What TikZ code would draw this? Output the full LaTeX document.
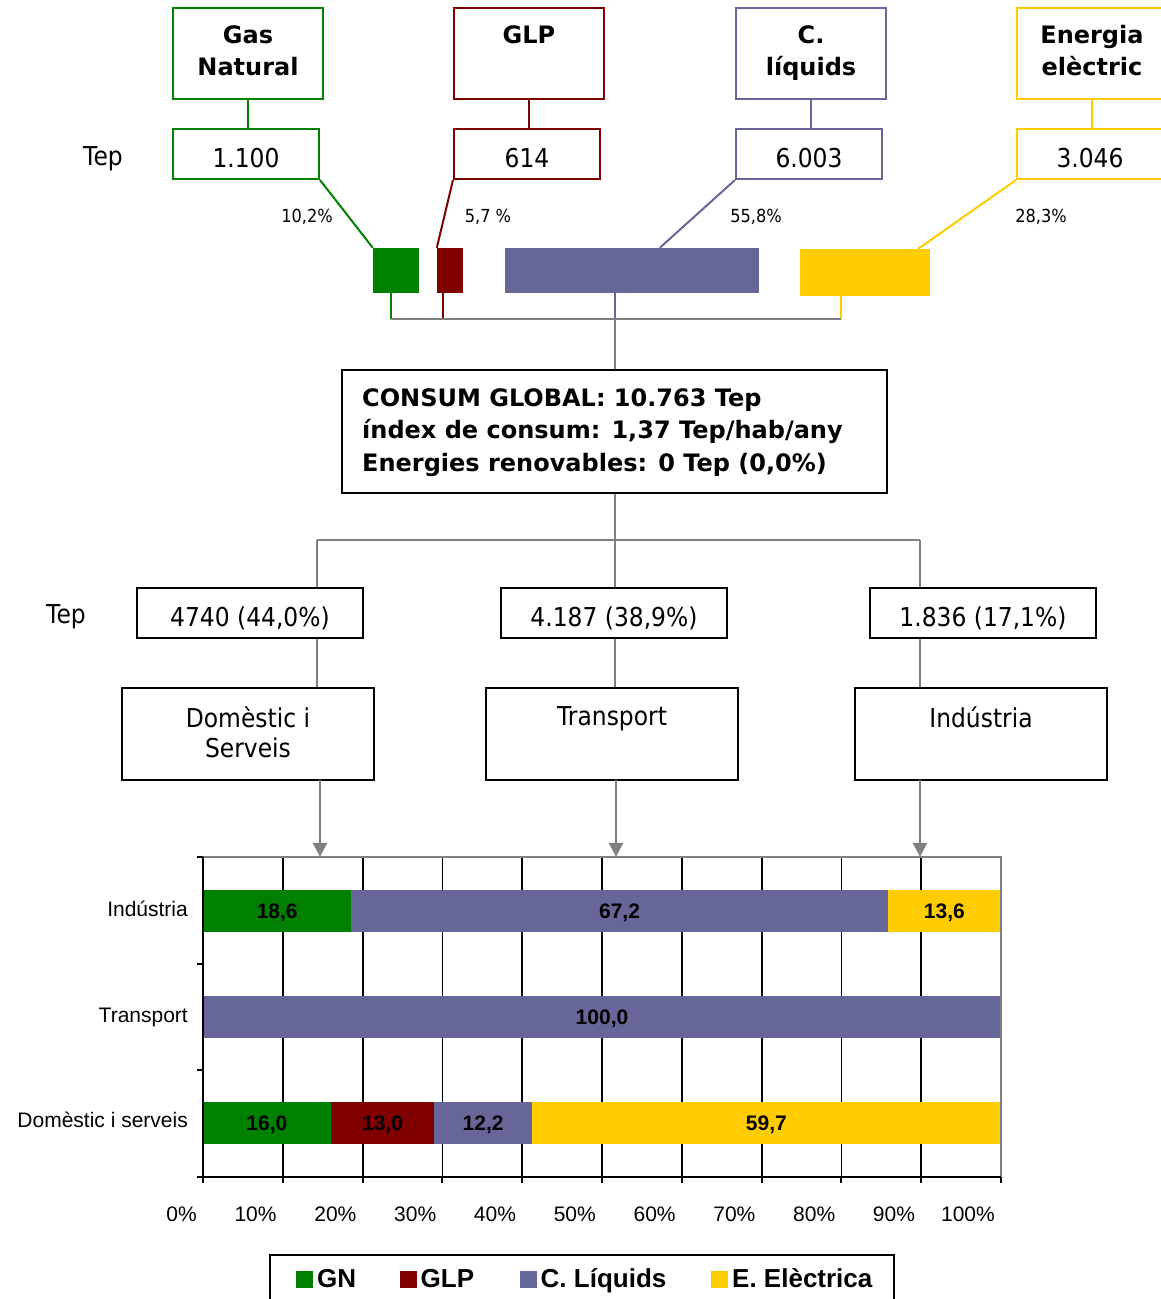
\documentclass[tikz,border=0pt]{standalone}
\usepackage{fontspec}
\setmainfont{DejaVu Sans}
\newfontfamily\narrowfont[FakeStretch=0.9]{DejaVu Sans}
\newfontfamily\chartfont{Liberation Sans}
\usetikzlibrary{arrows.meta}

\definecolor{gncol}{RGB}{0,128,0}
\definecolor{glpcol}{RGB}{128,0,0}
\definecolor{liqcol}{RGB}{102,102,153}
\definecolor{elecol}{RGB}{255,204,0}
\definecolor{linkgray}{RGB}{128,128,128}

\tikzset{
  srcbox/.style={draw, line width=2pt, minimum width=150pt, minimum height=91pt},
  srctext/.style={anchor=north, align=center, inner sep=0pt, font=\bfseries\fontsize{24}{32}\selectfont},
  valbox/.style={draw, line width=2pt, minimum width=146pt, minimum height=50pt, inner sep=0pt,
    text height=26pt, text depth=0pt, font=\narrowfont\fontsize{26}{30}\selectfont},
  pcttext/.style={anchor=base, inner sep=0pt, font=\narrowfont\fontsize{18}{20}\selectfont},
  colbar/.style={minimum height=45pt, inner sep=0pt},
  sectbox/.style={draw, line width=2pt, minimum width=252pt, minimum height=92pt},
  secttext/.style={anchor=north, align=center, inner sep=0pt, font=\narrowfont\fontsize{26}{30}\selectfont},
  link/.style={linkgray, line width=2.5pt},
  flow/.style={link, -{Triangle[width=14pt,length=14pt]}},
  gridline/.style={black, line width=1.8pt},
  catlabel/.style={anchor=base east, inner sep=0pt, font=\chartfont\fontsize{21}{24}\selectfont},
  barvalue/.style={anchor=base, inner sep=0pt, font=\chartfont\bfseries\fontsize{21}{24}\selectfont},
  ticklabel/.style={anchor=base east, inner sep=0pt, font=\chartfont\fontsize{21}{24}\selectfont},
  legtext/.style={anchor=base west, inner sep=0pt, font=\chartfont\bfseries\fontsize{26}{30}\selectfont}
}

\begin{document}
\begin{tikzpicture}[x=1pt, y=-1pt]
  \useasboundingbox (0,0) rectangle (1160,1299);

  % energy sources
  \node (gas) at (248,53.5) [srcbox, draw=gncol] {};
  \node (glp) at (529,53.5) [srcbox, draw=glpcol] {};
  \node (liq) at (811,53.5) [srcbox, draw=liqcol] {};
  \node (ele) at (1092,53.5) [srcbox, draw=elecol] {};

  \node [srctext] at ([yshift=-18pt]gas.north) {Gas\\Natural};
  \node [srctext] at ([yshift=-18pt]glp.north) {GLP};
  \node [srctext] at ([yshift=-18pt]liq.north) {C.\\líquids};
  \node [srctext] at ([yshift=-18pt]ele.north) {Energia\\elèctric};

  \node (gasv) at (246,154) [valbox, draw=gncol] {1.100};
  \node (glpv) at (527,154) [valbox, draw=glpcol] {614};
  \node (liqv) at (809,154) [valbox, draw=liqcol] {6.003};
  \node (elev) at (1090,154) [valbox, draw=elecol] {3.046};

  \node (teptop) at (103,165) [anchor=base, inner sep=0pt, font=\narrowfont\fontsize{26}{30}\selectfont] {Tep};

  \path [line width=2pt]
    (gas.south) edge [gncol] (gas.south |- gasv.north)
    (glp.south) edge [glpcol] (glp.south |- glpv.north)
    (liq.south) edge [liqcol] (liq.south |- liqv.north)
    (ele.south) edge [elecol] (ele.south |- elev.north)
  ;

  % share bars
  \node (gnbar) at (396,270.5) [colbar, fill=gncol, minimum width=46pt] {};
  \node (glpbar) at (450,270.5) [colbar, fill=glpcol, minimum width=26pt] {};
  \node (liqbar) at (632,270.5) [colbar, fill=liqcol, minimum width=254pt] {};
  \node (elebar) at (865,272.5) [colbar, fill=elecol, minimum width=130pt, minimum height=47pt] {};

  \draw [gncol, line width=2pt] (gasv.south east) -- (gnbar.north west);
  \draw [glpcol, line width=2pt] (glpv.south west) -- (glpbar.north west);
  \draw [liqcol, line width=2pt] (liqv.south west) -- ([xshift=155pt]liqbar.north west);
  \draw [elecol, line width=2pt] (elev.south west) -- ([xshift=-12pt]elebar.north east);

  \node at (307,222.5) [pcttext] {10,2\%};
  \node at (488,222.5) [pcttext] {5,7 \%};
  \node at (756,222.5) [pcttext] {55,8\%};
  \node at (1041,222.5) [pcttext] {28,3\%};

  \coordinate (busl) at (391,319);
  \coordinate (glpdrop) at (443,319);
  \coordinate (busm) at (615,319);
  \coordinate (busr) at (841,319);

  \draw [gncol, line width=2pt] (gnbar.south -| busl) -- (busl);
  \draw [glpcol, line width=2pt] (glpbar.south -| glpdrop) -- (glpdrop);
  \draw [liqcol, line width=2pt] (liqbar.south -| busm) -- (busm);
  \draw [elecol, line width=2pt] (elebar.south -| busr) -- (busr);
  \draw [link] (busl) -- (busr);

  % global consumption
  \node (consum) at (614.5,431.5) [draw, line width=2pt, minimum width=545pt, minimum height=123pt] {};
  \node [anchor=north west, align=left, inner sep=0pt, font=\bfseries\fontsize{24}{32.5}\selectfont]
    at ([xshift=21pt,yshift=-19pt]consum.north west)
    {CONSUM GLOBAL: 10.763 Tep\\índex de consum: 1,37 Tep/hab/any\\Energies renovables: 0 Tep (0,0\%)};
  \draw [link] (busm) -- (busm |- consum.north);

  % sectors
  \node (dtep) at (250,613) [valbox, draw=black, minimum width=226pt] {4740 (44,0\%)};
  \node (ttep) at (614,613) [valbox, draw=black, minimum width=226pt] {4.187 (38,9\%)};
  \node (itep) at (983,613) [valbox, draw=black, minimum width=226pt] {1.836 (17,1\%)};

  \node (tepmid) at (66,623.5) [anchor=base, inner sep=0pt, font=\narrowfont\fontsize{26}{30}\selectfont] {Tep};

  \node (dsec) at (248,734) [sectbox] {};
  \node (tsec) at (612,734) [sectbox] {};
  \node (isec) at (981,734) [sectbox] {};

  \node [secttext] at ([yshift=-19pt]dsec.north) {Domèstic i\\Serveis};
  \node [secttext] at ([yshift=-19pt]tsec.north) {Transport};
  \node [secttext] at ([yshift=-19pt]isec.north) {Indústria};

  \coordinate (dcol) at (317,540);
  \coordinate (split) at (615,540);
  \coordinate (icol) at (920,540);

  \draw [link] (consum.south -| split) -- (split);
  \draw [link] (dcol) -- (icol);
  \path [link]
    (dcol) edge (dcol |- dtep.north)
    (split) edge (split |- ttep.north)
    (icol) edge (icol |- itep.north)
    (dtep.south -| dcol) edge (dsec.north -| dcol)
    (ttep.south -| split) edge (tsec.north -| split)
    (itep.south -| icol) edge (isec.north -| icol)
  ;

  % chart
  \node (plot) at (602,1017) [minimum width=798pt, minimum height=320pt, inner sep=0pt] {};

  \coordinate (darr) at (320,780);
  \coordinate (tarr) at (616,780);
  \coordinate (iarr) at (920,780);
  \draw [flow] (darr) -- (darr |- plot.north);
  \draw [flow] (tarr) -- (tarr |- plot.north);
  \draw [flow] (iarr) -- (iarr |- plot.north);

  \foreach \i in {1,...,9}
    \draw [gridline] ({203+79.8*\i},857) -- ({203+79.8*\i},1177);

  \foreach \y/\a/\b/\c/\v in {
      911/203/351.4/gncol/{18,6}, 911/351.4/887.7/liqcol/{67,2}, 911/887.7/1001/elecol/{13,6},
      1017/203/1001/liqcol/{100,0},
      1123/203/330.7/gncol/{16,0}, 1123/330.7/434.4/glpcol/{13,0}, 1123/434.4/531.8/liqcol/{12,2}, 1123/531.8/1001/elecol/{59,7}} {
    \fill [\c] ({\a},{\y-21}) rectangle ({\b},{\y+21});
    \node [barvalue] at ({(\a+\b)/2},{\y+7}) {\v};
  }

  \draw [linkgray, line width=2pt] (plot.north west) -- (plot.north east) -- (plot.south east);
  \draw [black, line width=2pt] (plot.north west) -- (plot.south west) -- (plot.south east);
  \foreach \t in {857,963.7,1070.3,1177}
    \draw [black, line width=2pt] (197,\t) -- (203,\t);
  \foreach \i in {0,...,10}
    \draw [black, line width=2pt] ({203+79.8*\i},1177) -- ({203+79.8*\i},1183);

  \node at (188,916) [catlabel] {Indústria};
  \node at (188,1022) [catlabel] {Transport};
  \node at (188,1127.5) [catlabel] {Domèstic i serveis};

  \foreach \i in {0,...,10} {
    \pgfmathtruncatemacro{\pc}{10*\i}
    \node at ({197+79.8*\i},1221) [ticklabel] {\pc\%};
  }

  % legend
  \node (legend) at (269,1254) [anchor=north west, draw, line width=2pt, minimum width=624pt, minimum height=60pt] {};
  \foreach \x/\c/\t in {304.5/gncol/GN, 408/glpcol/GLP, 528/liqcol/C. Líquids, 719.5/elecol/E. Elèctrica} {
    \node at (\x,1279) [fill=\c, minimum size=17pt, inner sep=0pt] {};
    \node at (\x+12.5,1287) [legtext] {\t};
  }
\end{tikzpicture}
\end{document}
